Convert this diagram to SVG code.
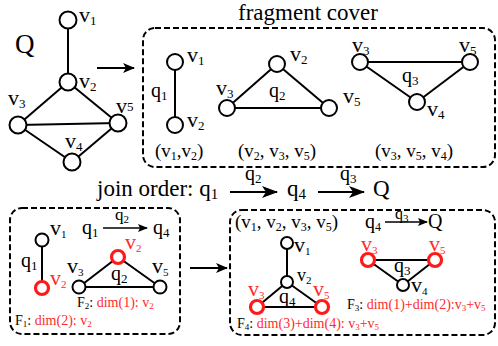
<svg xmlns="http://www.w3.org/2000/svg" width="498" height="346" viewBox="0 0 498 346">
<style>
text{font-family:"Liberation Serif","Times New Roman",serif;fill:#000}
.nd{fill:#fff;stroke:#000;stroke-width:2}
.rn{fill:#fff;stroke:#ff1a1a;stroke-width:3.2}
.sn{fill:#fff;stroke:#000;stroke-width:2}
.e{stroke:#000;stroke-width:2;fill:none}
.box{fill:none;stroke:#000;stroke-width:2;stroke-dasharray:6 3}
.lb{font-size:20px}
.vl{font-size:22px}
.sm{font-size:19px}
.red{fill:#ff2a2a}
.ar{stroke:#000;stroke-width:2;fill:none}
.ar1{stroke:#000;stroke-width:1.3;fill:none}
</style>
<defs>
<marker id="ah" viewBox="0 0 12 10" refX="11" refY="5" markerWidth="12" markerHeight="10" markerUnits="userSpaceOnUse" orient="auto"><path d="M0,0 L12,5 L0,10 L3,5 z" fill="#000"/></marker>
<marker id="ah2" viewBox="0 0 16 12" refX="15" refY="6" markerWidth="16" markerHeight="12" markerUnits="userSpaceOnUse" orient="auto"><path d="M0,0 L16,6 L0,12 L4,6 z" fill="#000"/></marker>
<marker id="ahs" viewBox="0 0 10 8" refX="9" refY="4" markerWidth="10" markerHeight="8" markerUnits="userSpaceOnUse" orient="auto"><path d="M0,0 L10,4 L0,8 L2,4 z" fill="#000"/></marker>
</defs>

<!-- titles -->
<text x="15" y="53" font-size="27">Q</text>
<text x="238" y="20" font-size="23">fragment cover</text>
<text x="97" y="196" font-size="23">join order: q<tspan font-size="15" dy="3">1</tspan></text>
<text x="245" y="180" font-size="20">q<tspan font-size="13" dy="3">2</tspan></text>
<text x="287" y="196" font-size="23">q<tspan font-size="15" dy="3">4</tspan></text>
<text x="340" y="180" font-size="20">q<tspan font-size="13" dy="3">3</tspan></text>
<text x="373" y="196" font-size="23">Q</text>

<!-- boxes -->
<g id="box-fragment"><rect class="box" x="143" y="28" width="352" height="139" rx="12"/></g>
<g id="box-left"><rect class="box" x="10" y="208" width="170" height="126" rx="12"/></g>
<g id="box-right"><rect class="box" x="230" y="210" width="265" height="125" rx="12"/></g>

<!-- connectors -->
<g id="connectors">
<line class="e" x1="68" y1="20" x2="68" y2="82"/>
<line class="e" x1="68" y1="82" x2="18" y2="125"/>
<line class="e" x1="68" y1="82" x2="118" y2="123"/>
<line class="e" x1="18" y1="125" x2="118" y2="123"/>
<line class="e" x1="18" y1="125" x2="72" y2="162"/>
<line class="e" x1="72" y1="162" x2="118" y2="123"/>
<line class="e" x1="175" y1="62" x2="175" y2="125"/>
<line class="e" x1="277" y1="64" x2="227" y2="108"/>
<line class="e" x1="277" y1="64" x2="329" y2="108"/>
<line class="e" x1="227" y1="108" x2="329" y2="108"/>
<line class="e" x1="360" y1="62" x2="470" y2="62"/>
<line class="e" x1="360" y1="62" x2="417" y2="102"/>
<line class="e" x1="417" y1="102" x2="470" y2="62"/>
<line class="e" x1="42" y1="240" x2="42" y2="288"/>
<line class="e" x1="79" y1="287" x2="118" y2="257"/>
<line class="e" x1="118" y1="257" x2="160" y2="287"/>
<line class="e" x1="79" y1="287" x2="160" y2="287"/>
<line class="e" x1="287" y1="243" x2="287" y2="282"/>
<line class="e" x1="287" y1="282" x2="257" y2="307"/>
<line class="e" x1="287" y1="282" x2="322" y2="307"/>
<line class="e" x1="257" y1="307" x2="322" y2="307"/>
<line class="e" x1="368" y1="260" x2="435" y2="260"/>
<line class="e" x1="368" y1="260" x2="403" y2="285"/>
<line class="e" x1="403" y1="285" x2="435" y2="260"/>
<line class="ar" x1="97" y1="68" x2="134" y2="68" marker-end="url(#ah)"/>
<line class="ar" x1="230" y1="192" x2="277" y2="192" marker-end="url(#ah2)"/>
<line class="ar" x1="318" y1="192" x2="364" y2="192" marker-end="url(#ah2)"/>
<line class="ar1" x1="103" y1="228" x2="147" y2="228" marker-end="url(#ahs)"/>
<line class="ar1" x1="385" y1="222" x2="427" y2="222" marker-end="url(#ahs)"/>
<line class="ar" x1="190" y1="268" x2="227" y2="268" marker-end="url(#ah)"/>
</g>

<!-- Q graph nodes -->
<g id="Q-v1"><circle class="nd" cx="68" cy="20" r="8.5"/><text class="vl" x="79" y="22">v<tspan font-size="13" dy="3">1</tspan></text></g>
<g id="Q-v2"><circle class="nd" cx="68" cy="82" r="8.5"/><text class="vl" x="79" y="88">v<tspan font-size="13" dy="3">2</tspan></text></g>
<g id="Q-v3"><circle class="nd" cx="18" cy="125" r="8.5"/><text class="vl" x="8" y="105">v<tspan font-size="13" dy="3">3</tspan></text></g>
<g id="Q-v5"><circle class="nd" cx="118" cy="123" r="8.5"/><text class="vl" x="116" y="113">v<tspan font-size="13" dy="-2">5</tspan></text></g>
<g id="Q-v4"><circle class="nd" cx="72" cy="162" r="8.5"/><text class="vl" x="65" y="148">v<tspan font-size="13" dy="3">4</tspan></text></g>

<!-- fragment q1 -->
<g id="F-q1">
<circle class="nd" cx="175" cy="62" r="8"/><circle class="nd" cx="175" cy="125" r="8"/>
<text class="vl" x="187" y="62">v<tspan font-size="13" dy="3">1</tspan></text>
<text class="vl" x="187" y="127">v<tspan font-size="13" dy="3">2</tspan></text>
<text class="lb" x="151" y="97">q<tspan font-size="13" dy="3">1</tspan></text>
<text class="sm" x="155" y="157">(v<tspan font-size="12" dy="3">1</tspan><tspan dy="-3">,v</tspan><tspan font-size="12" dy="3">2</tspan><tspan dy="-3">)</tspan></text>
</g>
<!-- fragment q2 -->
<g id="F-q2">
<circle class="nd" cx="277" cy="64" r="8"/><circle class="nd" cx="227" cy="108" r="8"/><circle class="nd" cx="329" cy="108" r="8"/>
<text class="vl" x="290" y="61">v<tspan font-size="13" dy="3">2</tspan></text>
<text class="vl" x="216" y="95">v<tspan font-size="13" dy="3">3</tspan></text>
<text class="lb" x="269" y="97">q<tspan font-size="13" dy="3">2</tspan></text>
<text class="vl" x="343" y="103">v<tspan font-size="13" dy="3">5</tspan></text>
<text class="sm" x="238" y="157">(v<tspan font-size="12" dy="3">2</tspan><tspan dy="-3">, v</tspan><tspan font-size="12" dy="3">3</tspan><tspan dy="-3">, v</tspan><tspan font-size="12" dy="3">5</tspan><tspan dy="-3">)</tspan></text>
</g>
<!-- fragment q3 -->
<g id="F-q3">
<circle class="nd" cx="360" cy="62" r="8"/><circle class="nd" cx="470" cy="62" r="8"/><circle class="nd" cx="417" cy="102" r="8"/>
<text class="vl" x="352" y="52">v<tspan font-size="13" dy="3">3</tspan></text>
<text class="vl" x="459" y="52">v<tspan font-size="13" dy="3">5</tspan></text>
<text class="lb" x="402" y="82">q<tspan font-size="13" dy="3">3</tspan></text>
<text class="vl" x="427" y="116">v<tspan font-size="13" dy="3">4</tspan></text>
<text class="sm" x="375" y="157">(v<tspan font-size="12" dy="3">3</tspan><tspan dy="-3">, v</tspan><tspan font-size="12" dy="3">5</tspan><tspan dy="-3">, v</tspan><tspan font-size="12" dy="3">4</tspan><tspan dy="-3">)</tspan></text>
</g>

<!-- bottom left -->
<g id="BL">
<text class="lb" x="82" y="234">q<tspan font-size="13" dy="3">1</tspan></text>
<text font-size="17" x="115" y="220">q<tspan font-size="11" dy="3">2</tspan></text>
<text class="lb" x="153" y="234">q<tspan font-size="13" dy="3">4</tspan></text>
<circle class="sn" cx="42" cy="240" r="6.5"/>
<text class="vl" x="50" y="235">v<tspan font-size="11" dy="3">1</tspan></text>
<text class="lb" x="21" y="267">q<tspan font-size="13" dy="3">1</tspan></text>
<circle class="rn" cx="42" cy="288" r="6.5"/>
<text class="vl red" x="50" y="285">v<tspan font-size="11" dy="3">2</tspan></text>
<circle class="sn" cx="79" cy="287" r="6.5"/>
<text class="vl" x="67" y="273">v<tspan font-size="11" dy="3">3</tspan></text>
<circle class="rn" cx="118" cy="257" r="6.5"/>
<text class="vl red" x="125" y="249">v<tspan font-size="11" dy="3">2</tspan></text>
<circle class="sn" cx="160" cy="287" r="6.5"/>
<text class="vl" x="152" y="273">v<tspan font-size="11" dy="3">5</tspan></text>
<text class="lb" x="111" y="280">q<tspan font-size="13" dy="3">2</tspan></text>
<text font-size="14" x="77" y="307">F<tspan font-size="9" dy="2">2</tspan><tspan dy="-2">: </tspan><tspan class="red">dim(1): v</tspan><tspan class="red" font-size="9" dy="2">2</tspan></text>
<text font-size="14" x="15" y="325">F<tspan font-size="9" dy="2">1</tspan><tspan dy="-2">: </tspan><tspan class="red">dim(2): v</tspan><tspan class="red" font-size="9" dy="2">2</tspan></text>
</g>

<!-- bottom right -->
<g id="BR">
<text font-size="19" x="235" y="228">(v<tspan font-size="12" dy="3">1</tspan><tspan dy="-3">, v</tspan><tspan font-size="12" dy="3">2</tspan><tspan dy="-3">, v</tspan><tspan font-size="12" dy="3">3</tspan><tspan dy="-3">, v</tspan><tspan font-size="12" dy="3">5</tspan><tspan dy="-3">)</tspan></text>
<text class="lb" x="365" y="228">q<tspan font-size="12" dy="3">4</tspan></text>
<text font-size="16" x="395" y="219">q<tspan font-size="11" dy="3">3</tspan></text>
<text class="lb" x="428" y="228">Q</text>
<circle class="sn" cx="287" cy="243" r="6"/>
<text class="vl" x="294" y="252">v<tspan font-size="11" dy="3">1</tspan></text>
<circle class="sn" cx="287" cy="282" r="6"/>
<text font-size="18" x="297" y="281">v<tspan font-size="11" dy="3">2</tspan></text>
<circle class="rn" cx="257" cy="307" r="6.5"/>
<text class="vl red" x="248" y="296">v<tspan font-size="11" dy="3">3</tspan></text>
<circle class="rn" cx="322" cy="307" r="6.5"/>
<text class="vl red" x="313" y="296">v<tspan font-size="11" dy="3">5</tspan></text>
<text class="lb" x="279" y="303">q<tspan font-size="13" dy="3">4</tspan></text>
<circle class="rn" cx="368" cy="260" r="6.5"/>
<text class="vl red" x="361" y="251">v<tspan font-size="11" dy="3">3</tspan></text>
<circle class="rn" cx="435" cy="260" r="6.5"/>
<text class="vl red" x="429" y="251">v<tspan font-size="11" dy="3">5</tspan></text>
<circle class="sn" cx="403" cy="285" r="6"/>
<text class="lb" x="394" y="272">q<tspan font-size="13" dy="3">3</tspan></text>
<text class="vl" x="411" y="292">v<tspan font-size="11" dy="3">4</tspan></text>
<text font-size="14" x="347" y="309">F<tspan font-size="9" dy="2">3</tspan><tspan dy="-2">: </tspan><tspan class="red">dim(1)+dim(2):v</tspan><tspan class="red" font-size="9" dy="2">3</tspan><tspan class="red" dy="-2">+v</tspan><tspan class="red" font-size="9" dy="2">5</tspan></text>
<text font-size="14" x="237" y="328">F<tspan font-size="9" dy="2">4</tspan><tspan dy="-2">: </tspan><tspan class="red">dim(3)+dim(4): v</tspan><tspan class="red" font-size="9" dy="2">3</tspan><tspan class="red" dy="-2">+v</tspan><tspan class="red" font-size="9" dy="2">5</tspan></text>
</g>
</svg>
